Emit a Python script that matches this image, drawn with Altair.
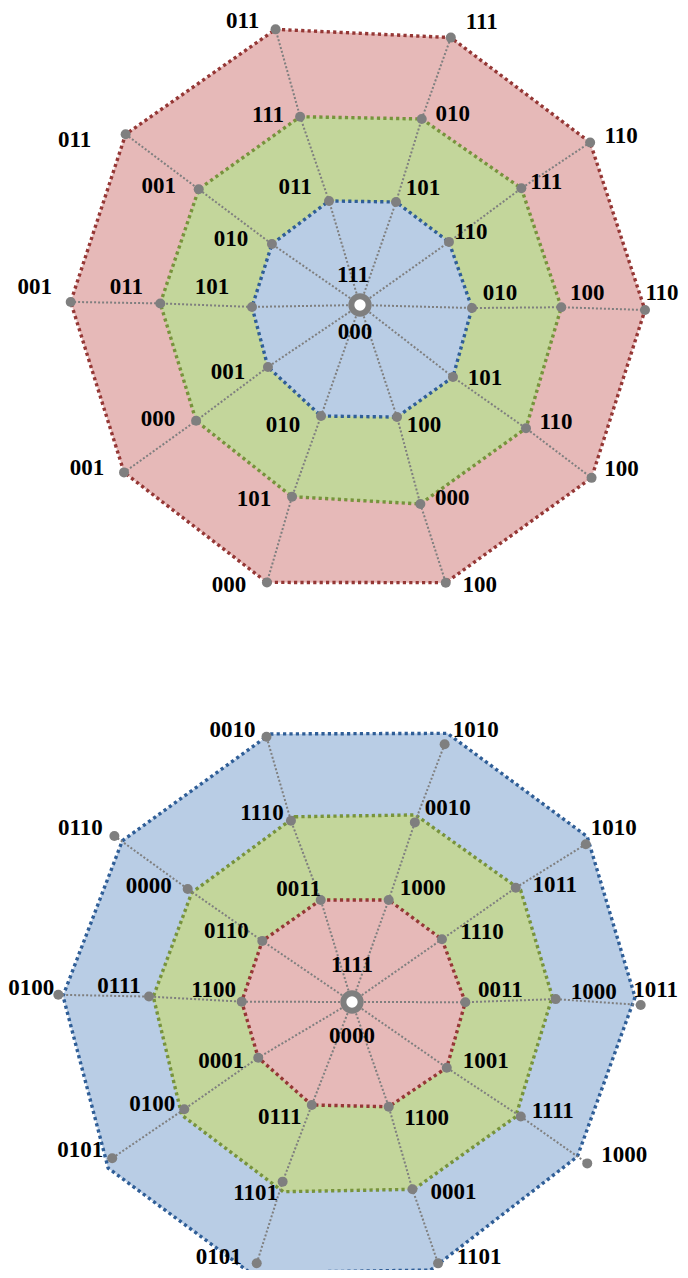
import math
import altair as alt
import pandas as pd

# ------------------------------------------------------------------ data
# ring order of every list: spoke at about 108, 72, 36, 0, -36, -72, -108, -144, 180, 144 degrees

# --- upper diagram (3-bit codes)
TOP_CENTER_LABELS = ["111", "000"]
TOP_INNER_LABELS = ["011", "101", "110", "010", "101", "100", "010", "001", "101", "010"]
TOP_MIDDLE_LABELS = ["111", "010", "111", "100", "110", "000", "101", "000", "011", "001"]
TOP_OUTER_LABELS = ["011", "111", "110", "110", "100", "100", "000", "001", "001", "011"]

TOP_INNER_ANGLE = [106.0, 71.4, 37.0, 0.5, -36.2, -71.1, -110.0, -147.8, 178.9, 143.6]
TOP_INNER_RADIUS = [112.4, 112.9, 111.4, 112.0, 115.2, 114.2, 113.9, 108.8, 108.0, 109.4]
TOP_MIDDLE_ANGLE = [107.3, 72.0, 36.8, 0.5, -35.7, -72.8, -109.9, -145.7, 178.4, 143.4]
TOP_MIDDLE_RADIUS = [201.4, 199.8, 201.5, 201.3, 204.4, 204.1, 199.6, 198.4, 199.8, 200.9]
TOP_OUTER_ANGLE = [106.8, 71.5, 35.9, -0.2, -36.1, -72.6, -108.8, -145.3, 178.6, 143.3]
TOP_OUTER_RADIUS = [292.1, 286.2, 284.1, 285.0, 286.6, 286.8, 288.8, 287.0, 289.4, 292.3]

# --- lower diagram (4-bit codes)
BOT_CENTER_LABELS = ["1111", "0000"]
BOT_INNER_LABELS = ["0011", "1000", "1110", "0011", "1001", "1100", "0111", "0001", "1100", "0110"]
BOT_MIDDLE_LABELS = ["1110", "0010", "1011", "1000", "1111", "0001", "1101", "0100", "0111", "0000"]
BOT_OUTER_LABELS = ["0010", "1010", "1010", "1011", "1000", "1101", "0101", "0101", "0100", "0110"]

BOT_INNER_ANGLE = [107.4, 70.9, 35.6, 0.4, -34.6, -71.0, -112.0, -150.0, 179.3, 145.6]
BOT_INNER_RADIUS = [108.0, 109.0, 109.4, 112.3, 113.9, 109.7, 110.0, 109.4, 111.3, 109.9]
BOT_MIDDLE_ANGLE = [108.8, 71.1, 35.3, 1.1, -34.1, -72.3, -111.5, -147.8, 178.2, 145.4]
BOT_MIDDLE_RADIUS = [192.6, 190.9, 199.4, 202.7, 202.6, 195.5, 192.0, 199.4, 204.1, 200.8]
BOT_OUTER_ANGLE = [108.0, 70.5, 34.3, -0.4, -34.4, -71.9, -110.3, -147.2, 178.4, 145.0]
BOT_OUTER_RADIUS = [280.0, 274.5, 281.8, 287.7, 283.9, 273.9, 277.5, 286.5, 294.8, 291.3]

# polygon corners of the lower diagram (they do not sit exactly on the dots)
BOT_MIDDLE_POLY_ANGLE = [107.3, 71.6, 34.0, 1.8, -35.0, -71.9, -110.3, -146.8, 178.2, 145.6]
BOT_MIDDLE_POLY_RADIUS = [195.1, 198.2, 202.2, 199.4, 198.5, 196.0, 201.2, 204.7, 199.8, 195.4]
BOT_OUTER_POLY_ANGLE = [107.1, 70.7, 35.4, 1.2, -34.4, -73.8, -110.9, -146.0, 178.6, 144.9]
BOT_OUTER_POLY_RADIUS = [281.5, 285.7, 287.3, 282.1, 271.9, 278.1, 288.7, 295.3, 290.1, 282.0]

# ------------------------------------------------------------------ layout / style
W, H = 672, 1262
X_DOMAIN = [8, 8 + W]
Y_DOMAIN = [8, 8 + H]
TOP_CENTER = (360, 309)
BOT_CENTER = (353, 1003)
TOP_HUB = (360, 305)
BOT_HUB = (352, 1002)

# label offsets from their dot (px)
TOP_CENTER_OFF = [(-7, -34), (-5, 23)]
TOP_INNER_OFF = [(-34, -14), (27, -14), (22, -10), (28, -15), (32, 1), (27, 8), (-38, 9), (-40, 5), (-40, -20), (-41, -5)]
TOP_MIDDLE_OFF = [(-32, -2), (31, -5), (25, -6), (26, -14), (30, -6), (32, -6), (-38, 2), (-38, -2), (-34, -16), (-40, -3)]
TOP_OUTER_OFF = [(-33, -8), (31, -16), (31, -6), (17, -17), (30, -9), (34, 2), (-38, 3), (-37, -4), (-36, -15), (-51, 6)]
BOT_CENTER_OFF = [(-1, -38), (-1, 33)]
BOT_INNER_OFF = [(-22, -11), (34, -12), (40, -7), (35, -12), (39, -7), (38, 11), (-32, 12), (-37, 3), (-28, -12), (-36, -10)]
BOT_MIDDLE_OFF = [(-29, -8), (33, -14), (39, -3), (38, -7), (32, -6), (41, 3), (-27, 11), (-32, -5), (-30, -11), (-39, -3)]
BOT_OUTER_OFF = [(-34, -7), (31, -14), (28, -16), (15, -15), (37, -8), (41, -6), (-38, -6), (-32, -8), (-27, -7), (-34, -8)]

RED_FILL, RED_LINE = "#E6B9B8", "#953735"
GREEN_FILL, GREEN_LINE = "#C3D69B", "#77933C"
BLUE_FILL, BLUE_LINE = "#B9CDE5", "#2F5E97"
GRAY = "#7F7F7F"
FONT = "Liberation Serif"

DIAGRAMS = [
    dict(
        name="top", center=TOP_CENTER, hub=TOP_HUB, center_labels=TOP_CENTER_LABELS, center_off=TOP_CENTER_OFF,
        rings=[
            dict(ring="inner", labels=TOP_INNER_LABELS, ang=TOP_INNER_ANGLE, rad=TOP_INNER_RADIUS,
                 pang=TOP_INNER_ANGLE, prad=TOP_INNER_RADIUS, off=TOP_INNER_OFF, fill=BLUE_FILL, line=BLUE_LINE),
            dict(ring="middle", labels=TOP_MIDDLE_LABELS, ang=TOP_MIDDLE_ANGLE, rad=TOP_MIDDLE_RADIUS,
                 pang=TOP_MIDDLE_ANGLE, prad=TOP_MIDDLE_RADIUS, off=TOP_MIDDLE_OFF, fill=GREEN_FILL, line=GREEN_LINE),
            dict(ring="outer", labels=TOP_OUTER_LABELS, ang=TOP_OUTER_ANGLE, rad=TOP_OUTER_RADIUS,
                 pang=TOP_OUTER_ANGLE, prad=TOP_OUTER_RADIUS, off=TOP_OUTER_OFF, fill=RED_FILL, line=RED_LINE),
        ],
    ),
    dict(
        name="bottom", center=BOT_CENTER, hub=BOT_HUB, center_labels=BOT_CENTER_LABELS, center_off=BOT_CENTER_OFF,
        rings=[
            dict(ring="inner", labels=BOT_INNER_LABELS, ang=BOT_INNER_ANGLE, rad=BOT_INNER_RADIUS,
                 pang=BOT_INNER_ANGLE, prad=BOT_INNER_RADIUS, off=BOT_INNER_OFF, fill=RED_FILL, line=RED_LINE),
            dict(ring="middle", labels=BOT_MIDDLE_LABELS, ang=BOT_MIDDLE_ANGLE, rad=BOT_MIDDLE_RADIUS,
                 pang=BOT_MIDDLE_POLY_ANGLE, prad=BOT_MIDDLE_POLY_RADIUS, off=BOT_MIDDLE_OFF, fill=GREEN_FILL, line=GREEN_LINE),
            dict(ring="outer", labels=BOT_OUTER_LABELS, ang=BOT_OUTER_ANGLE, rad=BOT_OUTER_RADIUS,
                 pang=BOT_OUTER_POLY_ANGLE, prad=BOT_OUTER_POLY_RADIUS, off=BOT_OUTER_OFF, fill=BLUE_FILL, line=BLUE_LINE),
        ],
    ),
]


def polar(center, ang, r):
    a = math.radians(ang)
    return center[0] + r * math.cos(a), center[1] - r * math.sin(a)


dot_rows, label_rows, spoke_rows, center_rows = [], [], [], []
poly_frames = []
for d in DIAGRAMS:
    cx, cy = d["center"]
    hx, hy = d["hub"]
    center_rows.append(dict(diagram=d["name"], x=hx, y=hy))
    for txt, (ox, oy) in zip(d["center_labels"], d["center_off"]):
        label_rows.append(dict(diagram=d["name"], label=txt, lx=cx + ox, ly=cy + oy))
    for k in range(10):
        spoke_rows.append(dict(sid=f"{d['name']}-{k}", o=0, x=hx, y=hy))
    for ri, ring in enumerate(d["rings"]):
        prow = []
        for k in range(10):
            x, y = polar(d["center"], ring["ang"][k], ring["rad"][k])
            dot_rows.append(dict(diagram=d["name"], ring=ring["ring"], k=k, x=x, y=y))
            spoke_rows.append(dict(sid=f"{d['name']}-{k}", o=ri + 1, x=x, y=y))
            ox, oy = ring["off"][k]
            label_rows.append(dict(diagram=d["name"], label=ring["labels"][k], lx=x + ox, ly=y + oy))
            px, py = polar(d["center"], ring["pang"][k], ring["prad"][k])
            prow.append(dict(k=k, x=px, y=py))
        poly_frames.append((ring["ring"], pd.DataFrame(prow), ring["fill"], ring["line"]))

dots = pd.DataFrame(dot_rows)
labels = pd.DataFrame(label_rows)
spokes = pd.DataFrame(spoke_rows)
centers = pd.DataFrame(center_rows)

xs = alt.Scale(domain=X_DOMAIN, nice=False, zero=False)
ys = alt.Scale(domain=Y_DOMAIN, nice=False, zero=False, reverse=True)


def X(field="x"):
    return alt.X(f"{field}:Q", scale=xs, axis=None)


def Y(field="y"):
    return alt.Y(f"{field}:Q", scale=ys, axis=None)


layers = []
ring_rank = {"outer": 0, "middle": 1, "inner": 2}
# draw outer rings first in each diagram
for idx in sorted(range(len(poly_frames)), key=lambda i: (i // 3, ring_rank[poly_frames[i][0]])):
    _, pdf, fill, line = poly_frames[idx]
    layers.append(
        alt.Chart(pdf)
        .mark_line(interpolate="linear-closed", fill=fill, fillOpacity=1, stroke=line,
                   strokeWidth=3.4, strokeDash=[3.2, 3.2])
        .encode(x=X(), y=Y(), order=alt.Order("k:Q"))
    )

layers.append(
    alt.Chart(spokes)
    .mark_line(stroke=GRAY, strokeWidth=2, strokeDash=[2, 2])
    .encode(x=X(), y=Y(), detail="sid:N", order=alt.Order("o:Q"))
)
layers.append(
    alt.Chart(dots).mark_circle(size=100, color=GRAY, opacity=1).encode(x=X(), y=Y())
)
layers.append(
    alt.Chart(centers)
    .mark_circle(size=300, fill="white", stroke=GRAY, strokeWidth=6, opacity=1, fillOpacity=1)
    .encode(x=X(), y=Y())
)
layers.append(
    alt.Chart(labels)
    .mark_text(font=FONT, fontWeight="bold", fontSize=23, color="black", align="center", baseline="middle")
    .encode(x=X("lx"), y=Y("ly"), text="label:N")
)

chart = (
    alt.layer(*layers)
    .properties(width=W, height=H, padding=0, autosize=alt.AutoSizeParams(type="none"), background="white")
    .configure_view(stroke=None)
)

chart.save("out.html", embed_options={"renderer": "svg", "actions": False})
